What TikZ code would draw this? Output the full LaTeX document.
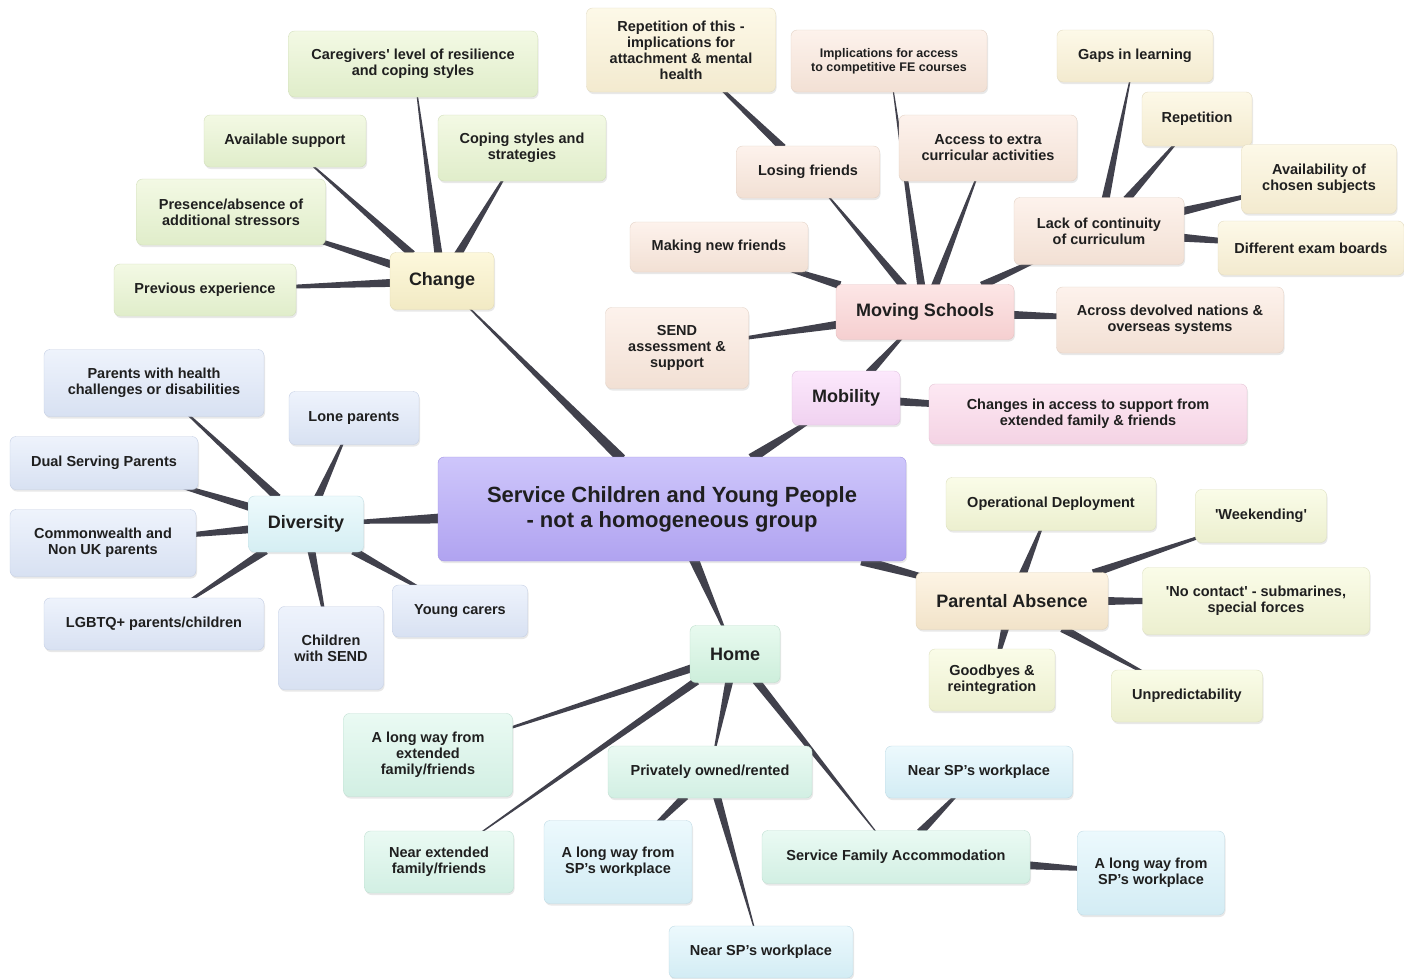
\documentclass[tikz,border=0pt]{standalone}
\usepackage{fontspec}
\setmainfont{Liberation Sans}
\usetikzlibrary{calc, shadows, backgrounds}

% fills: T = top, B = bottom, D = border
\definecolor{coreT}{HTML}{CEC6FB}\definecolor{coreB}{HTML}{B0A3F0}\definecolor{coreD}{HTML}{A194E4}
\definecolor{creamT}{HTML}{FDF8DC}\definecolor{creamB}{HTML}{F2EAC4}\definecolor{creamD}{HTML}{E3DBB4}
\definecolor{greenT}{HTML}{F3F9E4}\definecolor{greenB}{HTML}{E0EDCA}\definecolor{greenD}{HTML}{D2DFBC}
\definecolor{pinkT}{HTML}{FDE6E6}\definecolor{pinkB}{HTML}{F5CFD0}\definecolor{pinkD}{HTML}{E6C2C3}
\definecolor{peachT}{HTML}{FDF2EC}\definecolor{peachB}{HTML}{F2E0D4}\definecolor{peachD}{HTML}{E4D3C7}
\definecolor{sandT}{HTML}{FDF9E8}\definecolor{sandB}{HTML}{F3EACF}\definecolor{sandD}{HTML}{E4DCC2}
\definecolor{mauveT}{HTML}{FCE8FC}\definecolor{mauveB}{HTML}{F0D2F0}\definecolor{mauveD}{HTML}{E0C3E0}
\definecolor{roseT}{HTML}{FDE8F3}\definecolor{roseB}{HTML}{F4D3E4}\definecolor{roseD}{HTML}{E5C5D5}
\definecolor{cyanT}{HTML}{EDFAFC}\definecolor{cyanB}{HTML}{D5EEF3}\definecolor{cyanD}{HTML}{C3DFE5}
\definecolor{lblueT}{HTML}{EEF3FC}\definecolor{lblueB}{HTML}{D8E1F2}\definecolor{lblueD}{HTML}{C6D0E5}
\definecolor{absT}{HTML}{FDF4E4}\definecolor{absB}{HTML}{F2E3C9}\definecolor{absD}{HTML}{E2D5BB}
\definecolor{limeT}{HTML}{FAFCE8}\definecolor{limeB}{HTML}{ECEFCF}\definecolor{limeD}{HTML}{DEE1C1}
\definecolor{homeT}{HTML}{E8FAEF}\definecolor{homeB}{HTML}{CDEEDB}\definecolor{homeD}{HTML}{BEDFCC}
\definecolor{mintT}{HTML}{EAFAF3}\definecolor{mintB}{HTML}{D2EFE3}\definecolor{mintD}{HTML}{C1E0D3}
\definecolor{skyT}{HTML}{ECF9FD}\definecolor{skyB}{HTML}{D3ECF4}\definecolor{skyD}{HTML}{C1DCE6}
\definecolor{linkgrey}{HTML}{41414C}

\tikzset{
  idea/.style={rounded corners=6pt, align=center, inner sep=2pt, text=black!88,
    font=\bfseries\fontsize{14.5}{16}\selectfont,
    drop shadow={opacity=0.18, shadow xshift=1pt, shadow yshift=-2pt}},
  topic/.style={idea, font=\bfseries\fontsize{18}{20}\selectfont},
  tone/.style={top color=#1T, bottom color=#1B, draw=#1D},
}

% tapered branch, wide at the parent's edge, narrowing to the child
\newcommand{\branch}[3]{%
  \path (#1) -- (#2) coordinate[pos=0] (bstart);
  \coordinate (bbase) at ($(bstart)!-3pt!(#2.center)$);
  \fill[linkgrey] ($(bbase)!#3!90:(#2.center)$) -- (#2.center)
    -- ($(bbase)!#3!-90:(#2.center)$) -- cycle;}

\begin{document}
\begin{tikzpicture}[x=1pt, y=-1pt]
\useasboundingbox (0,0) rectangle (1404,978);

% centre
\node[idea, tone=core, minimum width=468, minimum height=104,
  font=\bfseries\fontsize{22}{25}\selectfont] (core) at (672,509)
  {Service Children and Young People\\- not a homogeneous group};

% first ring
\node[topic, tone=cream, minimum width=104, minimum height=57] (change) at (442,281) {Change};
\node[topic, tone=mauve, minimum width=108, minimum height=54] (mobility) at (846,398) {Mobility};
\node[topic, tone=pink, minimum width=178, minimum height=55] (moving) at (925,312) {Moving Schools};
\node[topic, tone=cyan, minimum width=115, minimum height=56] (diversity) at (306,524) {Diversity};
\node[topic, tone=abs, minimum width=192, minimum height=57] (absence) at (1012,601) {Parental Absence};
\node[topic, tone=home, minimum width=90, minimum height=57] (home) at (735,654) {Home};

% change
\node[idea, tone=green, minimum width=249, minimum height=66] (caregivers) at (413,64) {Caregivers\textquotesingle{} level of resilience\\and coping styles};
\node[idea, tone=green, minimum width=162, minimum height=52] (support) at (285,141) {Available support};
\node[idea, tone=green, minimum width=168, minimum height=66] (coping) at (522,148) {Coping styles and\\strategies};
\node[idea, tone=green, minimum width=189, minimum height=66] (stressors) at (231,212) {Presence/absence of\\additional stressors};
\node[idea, tone=green, minimum width=182, minimum height=52] (previous) at (205,290) {Previous experience};

% moving schools
\node[idea, tone=rose, minimum width=318, minimum height=60] (famaccess) at (1088,414) {Changes in access to support from\\extended family \& friends};
\node[idea, tone=peach, minimum width=178, minimum height=50] (making) at (719,247) {Making new friends};
\node[idea, tone=peach, minimum width=143, minimum height=81] (sendsup) at (677,348) {SEND\\assessment \&\\support};
\node[idea, tone=peach, minimum width=143, minimum height=52] (losing) at (808,172) {Losing friends};
\node[idea, tone=peach, minimum width=178, minimum height=66] (extra) at (988,148) {Access to extra\\curricular activities};
\node[idea, tone=peach, minimum width=170, minimum height=67] (curric) at (1099,231) {Lack of continuity\\of curriculum};
\node[idea, tone=peach, minimum width=227, minimum height=66] (devolved) at (1170,320) {Across devolved nations \&\\overseas systems};
\node[idea, tone=sand, minimum width=189, minimum height=84] (repthis) at (681,50) {Repetition of this -\\implications for\\attachment \& mental\\health};
\node[idea, tone=peach, minimum width=196, minimum height=62,
  font=\bfseries\fontsize{12.5}{14}\selectfont] (fecourses) at (889,61) {Implications for access\\to competitive FE courses};
\node[idea, tone=sand, minimum width=156, minimum height=52] (gaps) at (1135,56) {Gaps in learning};
\node[idea, tone=sand, minimum width=110, minimum height=54] (repetition) at (1197,119) {Repetition};
\node[idea, tone=sand, minimum width=155, minimum height=69] (subjects) at (1319,179) {Availability of\\chosen subjects};
\node[idea, tone=sand, minimum width=186, minimum height=54] (exams) at (1311,248) {Different exam boards};

% diversity
\node[idea, tone=lblue, minimum width=220, minimum height=67] (health) at (154,383) {Parents with health\\challenges or disabilities};
\node[idea, tone=lblue, minimum width=130, minimum height=53] (lone) at (354,418) {Lone parents};
\node[idea, tone=lblue, minimum width=188, minimum height=53] (dual) at (104,463) {Dual Serving Parents};
\node[idea, tone=lblue, minimum width=186, minimum height=67] (nonuk) at (103,543) {Commonwealth and\\Non UK parents};
\node[idea, tone=lblue, minimum width=220, minimum height=52] (lgbtq) at (154,624) {LGBTQ+ parents/children};
\node[idea, tone=lblue, minimum width=105, minimum height=83] (sendkids) at (331,648) {Children\\with SEND};
\node[idea, tone=lblue, minimum width=135, minimum height=52] (carers) at (460,611) {Young carers};

% parental absence
\node[idea, tone=lime, minimum width=210, minimum height=53] (deploy) at (1051,504) {Operational Deployment};
\node[idea, tone=lime, minimum width=131, minimum height=53] (weekend) at (1261,516) {\textquotesingle Weekending\textquotesingle};
\node[idea, tone=lime, minimum width=227, minimum height=67] (nocontact) at (1256,601) {\textquotesingle No contact\textquotesingle{} - submarines,\\special forces};
\node[idea, tone=lime, minimum width=126, minimum height=62] (goodbyes) at (992,680) {Goodbyes \&\\reintegration};
\node[idea, tone=lime, minimum width=151, minimum height=52] (unpredict) at (1187,696) {Unpredictability};

% home
\node[idea, tone=mint, minimum width=169, minimum height=83] (farfamily) at (428,755) {A long way from\\extended\\family/friends};
\node[idea, tone=mint, minimum width=149, minimum height=62] (nearfamily) at (439,862) {Near extended\\family/friends};
\node[idea, tone=mint, minimum width=204, minimum height=52] (private) at (710,772) {Privately owned/rented};
\node[idea, tone=mint, minimum width=268, minimum height=53] (sfa) at (896,857) {Service Family Accommodation};
\node[idea, tone=sky, minimum width=148, minimum height=83] (farwork1) at (618,862) {A long way from\\SP's workplace};
\node[idea, tone=sky, minimum width=184, minimum height=52] (nearwork1) at (761,952) {Near SP's workplace};
\node[idea, tone=sky, minimum width=187, minimum height=52] (nearwork2) at (979,772) {Near SP's workplace};
\node[idea, tone=sky, minimum width=147, minimum height=84] (farwork2) at (1151,873) {A long way from\\SP's workplace};

\begin{pgfonlayer}{background}
  \fill[white] (0,0) rectangle (1404,978);
  \foreach \c in {change, mobility, diversity, absence, home}
    {\branch{core}{\c}{5pt}}
  \foreach \p/\c in {change/caregivers, change/support, change/coping, change/stressors, change/previous,
      mobility/moving, mobility/famaccess,
      moving/making, moving/sendsup, moving/losing, moving/extra, moving/curric, moving/devolved,
      moving/fecourses, losing/repthis,
      curric/gaps, curric/repetition, curric/subjects, curric/exams,
      diversity/health, diversity/lone, diversity/dual, diversity/nonuk,
      diversity/lgbtq, diversity/sendkids, diversity/carers,
      absence/deploy, absence/weekend, absence/nocontact, absence/goodbyes, absence/unpredict,
      home/farfamily, home/nearfamily, home/private, home/sfa,
      private/farwork1, private/nearwork1, sfa/nearwork2, sfa/farwork2}
    {\branch{\p}{\c}{4pt}}
\end{pgfonlayer}
\end{tikzpicture}
\end{document}
